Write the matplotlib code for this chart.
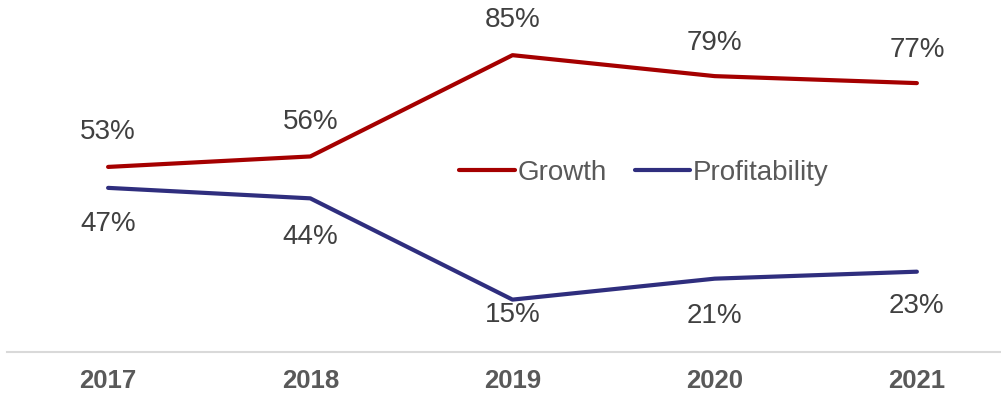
import matplotlib.pyplot as plt
import numpy as np

plt.rcParams['font.family'] = ['Liberation Sans', 'DejaVu Sans']

years = ['2017', '2018', '2019', '2020', '2021']
growth = [53, 56, 85, 79, 77]
profitability = [47, 44, 15, 21, 23]

red = '#A50000'
navy = '#2F2E7E'
label_col = '#404040'

fig = plt.figure(figsize=(10.01, 3.96), dpi=100)
ax = fig.add_axes([7/1001, 44/396, 994/1001, 352/396])

x = np.arange(len(years))
ax.plot(x, growth, color=red, lw=3, solid_capstyle='round', label='Growth')
ax.plot(x, profitability, color=navy, lw=3, solid_capstyle='round', label='Profitability')

# label offsets in points (the 15% one sits tighter to stay above the axis)
up_off = [25, 25, 25, 24, 24]
down_off = [-26, -28, -11, -27, -25]

for xi, g, p, uo, do in zip(x, growth, profitability, up_off, down_off):
    ax.annotate(f'{g}%', (xi, g), xytext=(0, uo), textcoords='offset points',
                ha='center', va='center', fontsize=20, color=label_col)
    ax.annotate(f'{p}%', (xi, p), xytext=(0, do), textcoords='offset points',
                ha='center', va='center', fontsize=20, color=label_col)

ax.set_xlim(-0.5, 4.416)
ax.set_ylim(0, 100.8)

for s in ['top', 'right', 'left']:
    ax.spines[s].set_visible(False)
ax.spines['bottom'].set_color('#D9D9D9')
ax.spines['bottom'].set_linewidth(1.5)

ax.set_yticks([])
ax.set_xticks(x)
ax.set_xticklabels(years, fontsize=18.5, fontweight='bold', color='#595959')
ax.tick_params(axis='x', length=0, pad=12)

leg = ax.legend(loc='center', bbox_to_anchor=(0.641, 0.508), ncol=2, frameon=False,
                fontsize=20, handlelength=2.0, handletextpad=0.1, columnspacing=1.0)
for t in leg.get_texts():
    t.set_color('#595959')

fig.savefig('out.png', dpi=100)
